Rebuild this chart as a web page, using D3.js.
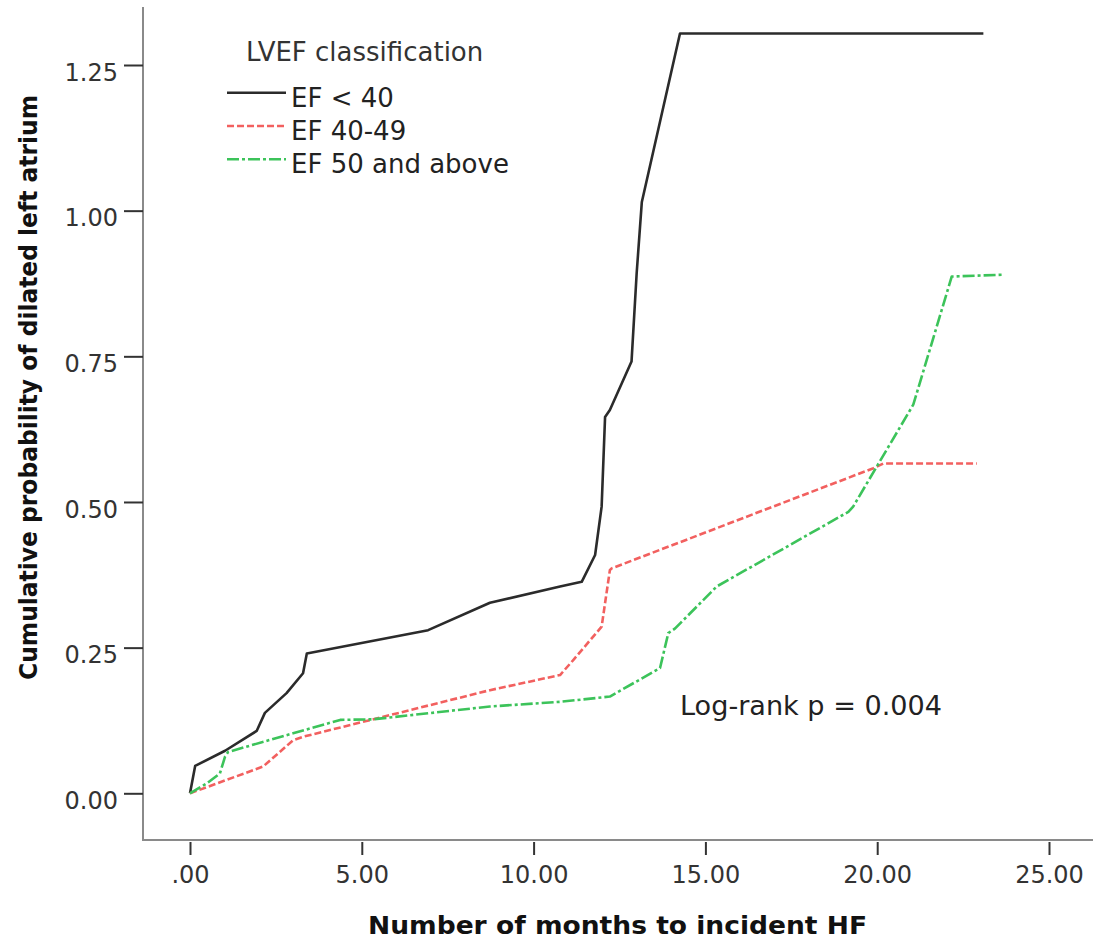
<!DOCTYPE html>
<html>
<head>
<meta charset="utf-8">
<script src="https://cdn.jsdelivr.net/npm/d3@7"></script>
<style>
    body { margin: 0; background: #fff; }
    svg { display: block; font-family: "DejaVu Sans", Verdana, sans-serif; }
</style>
</head>
<body>
<svg id="chart" width="1093" height="940"></svg>
<script>
"use strict";
// months to incident HF, cumulative probability
const efBelow40 = [
    [0, 0], [0.15, 0.047], [1.02, 0.073], [1.94, 0.107], [2.18, 0.138], [2.81, 0.172],
    [3.29, 0.206], [3.40, 0.240], [6.93, 0.280], [8.73, 0.327], [10.77, 0.355], [11.40, 0.363],
    [11.79, 0.409], [11.98, 0.492], [12.08, 0.646], [12.22, 0.658], [12.85, 0.741],
    [13.00, 0.893], [13.15, 1.015], [14.26, 1.304], [23.09, 1.304]
];
const ef40to49 = [
    [0, 0], [2.13, 0.046], [3.00, 0.091], [3.29, 0.097], [8.73, 0.177], [10.77, 0.203],
    [11.16, 0.229], [11.98, 0.286], [12.22, 0.383], [12.27, 0.386], [19.89, 0.558],
    [20.18, 0.566], [22.90, 0.566]
];
const ef50above = [
    [0, 0], [0.49, 0.017], [0.87, 0.034], [1.02, 0.063], [1.11, 0.071], [3.00, 0.103],
    [4.37, 0.126], [5.33, 0.127], [8.73, 0.149], [10.77, 0.157], [12.22, 0.166],
    [13.68, 0.215], [13.92, 0.275], [14.12, 0.283], [15.33, 0.355], [19.16, 0.483],
    [19.30, 0.492], [21.05, 0.667], [22.17, 0.887], [23.66, 0.890]
];
const seriesNames = ["EF < 40", "EF 40-49", "EF 50 and above"];
const xTicks = [0, 5, 10, 15, 20, 25];
const yTicks = [0, 0.25, 0.5, 0.75, 1.0, 1.25];
const legendTitle = "LVEF classification";
const note = "Log-rank p = 0.004";
const xTitle = "Number of months to incident HF";
const yTitle = "Cumulative probability of dilated left atrium";

const styles = [
    { color: "#2b2b2b", dash: null },
    { color: "#f2605f", dash: "7,3" },
    { color: "#3cc35a", dash: "12,3,3,3" }
];

const svg = d3.select("#chart");
const x = d3.scaleLinear().domain([0, 25]).range([190, 1049]);
const y = d3.scaleLinear().domain([0, 1.25]).range([793.3, 65]);

// frame lines
svg.append("line")
    .attr("x1", 143).attr("x2", 143).attr("y1", 7).attr("y2", 840)
    .attr("stroke", "#8a8a8a").attr("stroke-width", 2);
svg.append("line")
    .attr("x1", 142).attr("x2", 1093).attr("y1", 840).attr("y2", 840)
    .attr("stroke", "#8a8a8a").attr("stroke-width", 2);

// axes
const xAxis = svg.append("g")
    .attr("transform", "translate(0,842)")
    .call(d3.axisBottom(x).tickValues(xTicks).tickSize(13).tickPadding(11)
        .tickFormat(d => d === 0 ? ".00" : d.toFixed(2)));
const yAxis = svg.append("g")
    .attr("transform", "translate(143,0)")
    .call(d3.axisLeft(y).tickValues(yTicks).tickSize(19).tickPadding(6)
        .tickFormat(d => d.toFixed(2)));
[xAxis, yAxis].forEach(g => {
    g.select(".domain").remove();
    g.attr("font-family", null).attr("font-size", null);
    g.selectAll(".tick line").attr("stroke", "#333").attr("stroke-width", 2);
    g.selectAll(".tick text").attr("fill", "#333").style("font-size", "24px");
});
yAxis.selectAll(".tick text").attr("dy", "0.63em");

// curves
const line = d3.line().x(d => x(d[0])).y(d => y(d[1]));
[efBelow40, ef40to49, ef50above].forEach((data, i) => {
    svg.append("path")
        .datum(data)
        .attr("d", line)
        .attr("fill", "none")
        .attr("stroke", styles[i].color)
        .attr("stroke-width", 2.6)
        .attr("stroke-linejoin", "round")
        .attr("stroke-dasharray", styles[i].dash);
});

// legend
svg.append("text")
    .attr("x", 246).attr("y", 61)
    .attr("fill", "#333").style("font-size", "26px")
    .text(legendTitle);
seriesNames.forEach((name, i) => {
    let ly = 92.7 + i * 33.3;
    svg.append("line")
        .attr("x1", 227).attr("x2", 286).attr("y1", ly).attr("y2", ly)
        .attr("stroke", styles[i].color).attr("stroke-width", 2.4)
        .attr("stroke-dasharray", styles[i].dash);
    svg.append("text")
        .attr("x", 291).attr("y", ly + 14)
        .attr("fill", "#222").style("font-size", "26px")
        .text(name);
});

// log-rank note
svg.append("text")
    .attr("x", 680).attr("y", 715)
    .attr("fill", "#222").style("font-size", "26px")
    .attr("textLength", 262).attr("lengthAdjust", "spacingAndGlyphs")
    .text(note);

// axis titles
svg.append("text")
    .attr("x", 368).attr("y", 934)
    .attr("fill", "#111").style("font-size", "25px").style("font-weight", "bold")
    .attr("textLength", 499).attr("lengthAdjust", "spacingAndGlyphs")
    .text(xTitle);
svg.append("text")
    .attr("transform", "translate(37,680) rotate(-90)")
    .attr("fill", "#111").style("font-size", "25px").style("font-weight", "bold")
    .attr("textLength", 585).attr("lengthAdjust", "spacingAndGlyphs")
    .text(yTitle);
</script>
</body>
</html>
